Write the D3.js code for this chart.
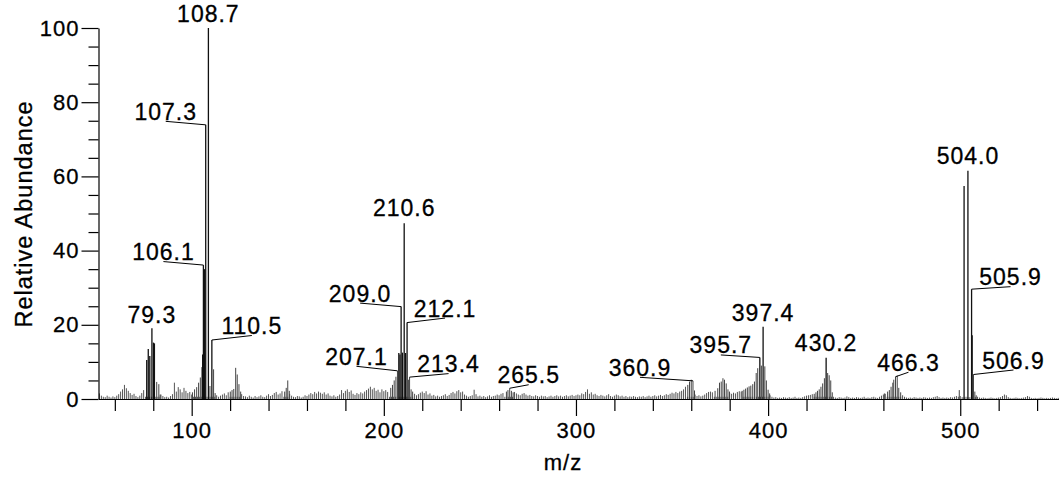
<!DOCTYPE html>
<html>
<head>
<meta charset="utf-8">
<script src="https://cdn.jsdelivr.net/npm/d3@7/dist/d3.min.js"></script>
<style>
  html, body { margin: 0; padding: 0; background: #fff; }
  svg { display: block; }
  text { font-family: "Liberation Sans", Arial, Helvetica, sans-serif; fill: #000; letter-spacing: 1px; stroke: #000; stroke-width: 0.3px; }
</style>
</head>
<body>
<svg id="chart" width="1059" height="481"></svg>
<script>
// Background signal: one abundance value per integer m/z, starting at m/z 52
const noiseStart = 52;
const noiseAbund = [
  1.5, 0.9, 0.6, 0.5, 0.9, 0.6, 0.4, 0.7, 0.5, 0.9,
  1.3, 2.0, 2.6, 3.8, 2.9, 2.2, 1.6, 1.1, 1.4, 0.8,
  0.5, 0.9, 1.6, 2.4, 0.6, 0.6, 0.6, 0.6, 0.6, 0.6,
  0.6, 0.6, 1.2, 0.8, 0.5, 0.6, 0.4, 0.8, 1.3, 4.4,
  2.0, 3.2, 2.6, 1.8, 3.0, 2.2, 1.6, 1.9, 1.2, 0.6,
  0.6, 0.6, 0.6, 0.6, 0.6, 0.6, 0.6, 0.6, 0.6, 0.6,
  0.6, 1.0, 0.6, 0.9, 1.2, 1.5, 1.0, 1.8, 0.6, 0.6,
  0.6, 0.6, 0.6, 0.6, 1.3, 0.8, 0.7, 0.5, 0.9, 0.6,
  0.4, 0.8, 0.5, 0.7, 1.0, 0.6, 0.5, 0.9, 1.3, 0.8,
  1.1, 1.6, 1.9, 1.2, 1.5, 2.1, 0.6, 0.6, 0.6, 1.4,
  0.9, 0.6, 0.5, 0.8, 0.7, 0.4, 0.6, 1.0, 0.8, 1.2,
  1.6, 1.3, 1.9, 1.5, 2.0, 1.7, 1.4, 1.8, 1.2, 1.5,
  0.9, 0.7, 1.0, 0.6, 0.8, 1.2, 2.4, 1.6, 2.2, 2.6,
  1.9, 2.3, 1.4, 1.1, 1.6, 1.3, 1.8, 1.5, 2.0, 2.4,
  2.8, 3.3, 2.6, 3.0, 2.2, 2.5, 1.8, 2.6, 2.1, 2.4,
  1.9, 0.6, 0.6, 0.6, 0.6, 0.6, 0.6, 0.6, 0.6, 0.6,
  0.6, 0.6, 0.6, 0.6, 1.4, 1.0, 1.3, 1.7, 2.0, 1.6,
  2.1, 1.2, 1.5, 0.9, 1.1, 0.7, 0.9, 0.6, 0.8, 1.0,
  1.3, 0.8, 1.1, 1.6, 1.9, 1.5, 2.1, 2.4, 1.8, 2.0,
  1.2, 0.9, 0.6, 0.8, 1.0, 2.5, 1.3, 0.7, 0.9, 0.6,
  0.8, 0.5, 0.7, 1.0, 0.6, 0.8, 0.9, 1.2, 1.0, 1.4,
  1.6, 0.6, 0.6, 0.6, 0.6, 0.6, 1.9, 1.5, 1.2, 1.0,
  1.4, 1.6, 1.2, 0.9, 1.1, 0.8, 0.7, 1.0, 0.8, 0.6,
  0.9, 0.7, 0.8, 0.5, 0.7, 0.9, 0.6, 0.8, 1.0, 0.7,
  0.9, 0.6, 0.8, 1.0, 0.7, 0.9, 1.1, 0.8, 1.0, 1.2,
  1.0, 1.5, 1.3, 1.9, 2.6, 1.4, 1.8, 1.2, 1.4, 1.0,
  0.8, 1.1, 0.9, 0.7, 1.0, 1.3, 0.8, 0.6, 0.9, 1.2,
  1.0, 0.7, 0.9, 0.6, 0.8, 0.5, 0.7, 0.6, 0.8, 0.6,
  0.5, 0.7, 0.6, 0.8, 0.5, 0.7, 0.9, 0.6, 0.8, 1.0,
  0.7, 0.9, 1.1, 0.8, 1.0, 1.3, 1.1, 1.4, 1.7, 1.5,
  1.9, 1.6, 2.0, 2.2, 2.6, 3.3, 0.6, 0.6, 0.6, 0.6,
  1.2, 0.8, 1.0, 0.7, 0.9, 1.2, 1.6, 1.9, 2.0, 1.8,
  0.6, 0.6, 0.6, 0.6, 0.6, 0.6, 0.6, 0.6, 1.6, 1.4,
  1.7, 1.5, 1.9, 2.1, 2.0, 0.6, 0.6, 0.6, 0.6, 0.6,
  0.6, 0.6, 0.6, 0.6, 0.6, 0.6, 0.6, 0.6, 0.6, 1.0,
  0.6, 0.4, 0.5, 0.3, 0.4, 0.3, 0.5, 0.4, 0.3, 0.5,
  0.3, 0.4, 0.6, 0.3, 0.4, 0.3, 0.5, 0.7, 0.9, 1.0,
  1.1, 1.3, 0.6, 0.6, 0.6, 0.6, 0.6, 0.6, 0.6, 0.6,
  0.6, 0.6, 0.6, 0.4, 0.3, 0.5, 0.4, 0.3, 0.4, 0.7,
  0.5, 0.3, 0.4, 0.3, 0.5, 0.4, 0.3, 0.4, 0.6, 0.3,
  0.4, 0.3, 0.5, 0.6, 0.4, 0.3, 0.6, 0.9, 1.2, 1.4,
  0.6, 0.6, 0.6, 0.6, 0.6, 0.6, 0.6, 0.6, 1.0, 0.6,
  0.4, 0.3, 0.4, 0.3, 0.5, 0.4, 0.3, 0.4, 0.3, 0.5,
  0.4, 0.3, 0.4, 0.3, 0.5, 0.6, 0.8, 0.5, 0.3, 0.4,
  0.3, 0.4, 0.3, 0.5, 0.4, 0.6, 0.8, 0.6, 0.8, 0.5,
  0.5, 0.6, 0.5, 0.5, 0.5, 0.5, 0.5, 0.6, 0.4, 0.3,
  0.4, 0.3, 0.2, 0.3, 0.4, 0.3, 0.2, 0.3, 0.4, 0.5,
  0.8, 1.2, 1.0, 0.5, 0.3, 0.2, 0.3, 0.4, 0.3, 0.2,
  0.3, 0.4, 0.5, 0.8, 0.6, 0.3, 0.2, 0.3, 0.2, 0.3,
  0.4, 0.3, 0.2, 0.3, 0.2, 0.3, 0.4, 0.3, 0.2, 0.3
];

// Ion clusters: centroid m/z and relative abundance (%)
const peakMz = [
  76.6, 77.4, 78.2, 79.3, 80.1, 80.6, 81.8, 82.9, 83.6,
  100.4, 101.5, 102.6, 103.6, 104.5, 105.3, 105.7, 106.1, 106.6, 107.3, 108.7, 109.5, 110.5, 111.4, 112.2,
  120.1, 121.0, 121.9, 122.9, 123.7, 124.6, 125.5,
  148.4, 149.2, 150.0, 150.8,
  203.6, 204.5, 205.4, 206.3, 207.1, 207.8, 208.4, 209.0, 209.7, 210.6, 211.3, 212.1, 212.8, 213.4, 214.2, 215.0,
  263.8, 264.6, 265.5, 266.4, 267.3,
  358.2, 359.1, 360.0, 360.9, 361.7,
  372.4, 373.8, 374.7, 375.6, 376.5, 377.3, 378.2, 379.1, 379.9,
  386.5, 387.4, 388.3, 389.2, 390.1, 391.0, 392.0, 392.9, 393.8, 394.6, 395.7, 396.5, 397.4, 398.3, 399.1, 400.0, 400.8,
  424.0, 424.9, 425.7, 426.6, 427.5, 428.4, 429.3, 430.2, 431.0, 431.8, 432.6, 433.4,
  460.5, 462.2, 463.1, 464.0, 464.9, 465.4, 466.3, 467.2, 468.0, 469.0,
  499.5, 502.0, 504.0, 505.9, 506.2, 506.9, 507.6, 508.3
];
const peakAbund = [
  10.5, 13.5, 11.6, 19.1, 15.2, 15.0, 4.6, 4.0, 1.2,
  1.8, 2.6, 3.2, 4.4, 5.8, 8.6, 12.0, 36.1, 35.0, 73.9, 100.0, 3.5, 15.9, 8.0, 1.6,
  2.0, 2.4, 2.7, 8.4, 6.6, 4.0, 2.0,
  2.0, 3.0, 5.0, 2.2,
  3.0, 3.8, 5.0, 6.0, 7.6, 12.4, 12.0, 24.9, 12.5, 47.4, 12.4, 20.6, 5.2, 5.9, 2.6, 2.0,
  2.0, 2.4, 2.9, 2.2, 1.8,
  3.8, 4.7, 5.2, 4.9, 2.3,
  2.2, 2.9, 4.4, 4.7, 5.6, 5.2, 4.2, 2.6, 2.0,
  2.2, 2.5, 2.8, 3.1, 3.4, 3.6, 4.0, 4.7, 7.0, 8.3, 11.2, 9.0, 19.5, 8.8, 5.0, 2.5, 1.5,
  1.4, 1.8, 2.2, 2.6, 3.3, 4.2, 5.6, 11.1, 7.0, 6.4, 5.0, 1.8,
  1.5, 2.0, 2.4, 3.3, 4.4, 5.2, 6.0, 6.3, 3.0, 1.8,
  2.4, 57.4, 61.5, 29.6, 17.2, 6.6, 2.0, 1.0
];

// Annotated peaks (m/z values printed on the spectrum)
const labelMz = [79.3, 106.1, 107.3, 108.7, 110.5, 207.1, 209.0, 210.6, 212.1, 213.4,
                 265.5, 360.9, 395.7, 397.4, 430.2, 466.3, 504.0, 505.9, 506.9];

// Axis ticks
const xMajorTicks = [100, 200, 300, 400, 500];
const xMinorTicks = [60, 80, 120, 140, 160, 180, 220, 240, 260, 280, 320, 340, 360, 380, 420, 440, 460, 480, 520, 540];
const yMajorTicks = [0, 20, 40, 60, 80, 100];
const yMinorTicks = [5, 10, 15, 25, 30, 35, 45, 50, 55, 65, 70, 75, 85, 90, 95];

const xTitle = "m/z";
const yTitle = "Relative Abundance";

// ---- layout ----
const svg = d3.select("#chart");
const x = d3.scaleLinear().domain([51.5, 551.4]).range([98.5, 1059]);
const y = d3.scaleLinear().domain([0, 100]).range([399, 28]);

// label placement relative to the peak apex: [dx, dy, leader]
const labelPlace = {
  "79.3": [0, -5, false], "106.1": [-40, -5, true], "107.3": [-40, -5, true],
  "108.7": [0, -6, false], "110.5": [40, -6, true], "207.1": [-41, -6, true],
  "209.0": [-41, -5, true], "210.6": [0, -7, false], "212.1": [38, -6, true],
  "213.4": [39, -5, true], "265.5": [19, -5, true], "360.9": [-53, -5, true],
  "395.7": [-39, -4, true], "397.4": [0, -6, false], "430.2": [0, -7, false],
  "466.3": [13, -6, true], "504.0": [0, -7, false], "505.9": [39, -4, true],
  "506.9": [40, -6, true]
};

// background sticks
const noise = noiseAbund.map((v, i) => ({ mz: noiseStart + i, v }));
svg.append("g").selectAll("line").data(noise).join("line")
  .attr("x1", d => x(d.mz)).attr("x2", d => x(d.mz))
  .attr("y1", y(0)).attr("y2", d => y(d.v))
  .attr("stroke", "#555").attr("stroke-width", 1);

// ion sticks
const peaks = peakMz.map((m, i) => ({ mz: m, v: peakAbund[i] }));
svg.append("g").selectAll("line").data(peaks).join("line")
  .attr("x1", d => x(d.mz)).attr("x2", d => x(d.mz))
  .attr("y1", y(0)).attr("y2", d => y(d.v))
  .attr("stroke", d => d.v >= 10 ? "#111" : "#444")
  .attr("stroke-width", d => d.v >= 10 ? 1.3 : 1);

// axes
const yMajor = svg.append("g").attr("transform", `translate(${x(51.5)},0)`)
  .call(d3.axisLeft(y).tickValues(yMajorTicks).tickSize(17).tickSizeOuter(0).tickPadding(2).tickFormat(d3.format("d")));
svg.append("g").attr("transform", `translate(${x(51.5)},0)`)
  .call(d3.axisLeft(y).tickValues(yMinorTicks).tickSize(10).tickSizeOuter(0).tickFormat(""))
  .select(".domain").remove();
const xMajor = svg.append("g").attr("transform", `translate(0,${y(0)})`)
  .call(d3.axisBottom(x).tickValues(xMajorTicks).tickSize(17).tickSizeOuter(0).tickPadding(6).tickFormat(d3.format("d")));
svg.append("g").attr("transform", `translate(0,${y(0)})`)
  .call(d3.axisBottom(x).tickValues(xMinorTicks).tickSize(12).tickSizeOuter(0).tickFormat(""))
  .select(".domain").remove();

svg.selectAll(".domain, .tick line").attr("stroke", "#000").attr("stroke-width", 1.2);
yMajor.selectAll("text").attr("font-size", 22).style("font-family", '"Liberation Sans", Arial, sans-serif');
xMajor.selectAll("text").attr("font-size", 22).style("font-family", '"Liberation Sans", Arial, sans-serif');

// axis titles
svg.append("text").attr("transform", "translate(32,214) rotate(-90)")
  .attr("text-anchor", "middle").attr("font-size", 23.5).text(yTitle);
svg.append("text").attr("x", 563).attr("y", 470)
  .attr("text-anchor", "middle").attr("font-size", 22).text(xTitle);

// peak annotations
const ann = svg.append("g");
labelMz.forEach(m => {
  const key = m.toFixed(1);
  const [dx, dy, leader] = labelPlace[key];
  const i = peakMz.indexOf(m);
  const px = x(m), py = y(peakAbund[i]);
  if (leader) {
    ann.append("line")
      .attr("x1", px + dx).attr("y1", py + dy + 1.5)
      .attr("x2", px).attr("y2", py)
      .attr("stroke", "#000").attr("stroke-width", 1);
  }
  ann.append("text").attr("x", px + dx).attr("y", py + dy)
    .attr("text-anchor", "middle").attr("font-size", 23).text(key);
});
</script>
</body>
</html>
